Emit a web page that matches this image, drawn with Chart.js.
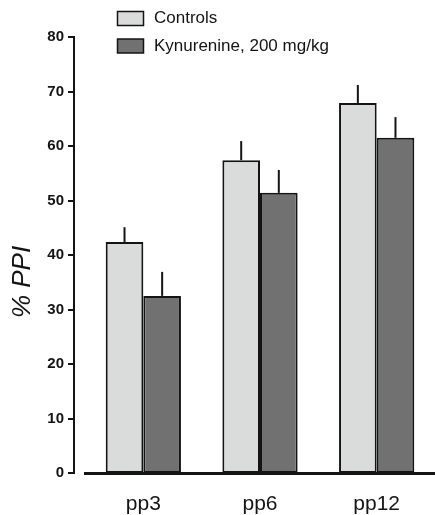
<!DOCTYPE html>
<html>
<head>
<meta charset="utf-8">
<script src="https://cdn.jsdelivr.net/npm/chart.js@4/dist/chart.umd.min.js"></script>
<style>
  html, body { margin: 0; padding: 0; background: #ffffff; }
  #wrap { position: relative; width: 435px; height: 515px; }
</style>
</head>
<body>
<div id="wrap"><canvas id="c" width="435" height="515"></canvas></div>
<script>
const categories = ['pp3', 'pp6', 'pp12'];
const seriesLabels = ['Controls', 'Kynurenine, 200 mg/kg'];
const controls = [42.4, 57.4, 67.9];
const controlsErr = [2.7, 3.5, 3.3];
const kynurenine = [32.5, 51.4, 61.5];
const kynurenineErr = [4.4, 4.2, 3.8];
const yTitle = '% PPI';
const yMin = 0, yMax = 80, yStep = 10;

const FONT = "'Liberation Sans', Arial, Helvetica, sans-serif";
const LIGHT = '#dadbdb';
const DARK = '#717171';
const INK = '#141414';

const errors = [controlsErr, kynurenineErr];

const extras = {
  id: 'extras',
  afterDatasetsDraw(chart) {
    const ctx = chart.ctx;
    const y = chart.scales.y;
    ctx.save();
    ctx.strokeStyle = INK;
    ctx.lineWidth = 2;
    chart.data.datasets.forEach((ds, di) => {
      const meta = chart.getDatasetMeta(di);
      meta.data.forEach((bar, i) => {
        const top = y.getPixelForValue(ds.data[i] + errors[di][i]);
        ctx.beginPath();
        ctx.moveTo(bar.x, bar.y);
        ctx.lineTo(bar.x, top);
        ctx.stroke();
      });
    });
    ctx.restore();
  },
  afterDraw(chart) {
    const ctx = chart.ctx;
    const y = chart.scales.y;
    const ax = 74;
    ctx.save();
    ctx.strokeStyle = INK;
    ctx.lineWidth = 2;
    ctx.beginPath();
    ctx.moveTo(ax, y.getPixelForValue(yMax) - 1);
    ctx.lineTo(ax, y.getPixelForValue(yMin) + 1);
    ctx.stroke();
    y.ticks.forEach(t => {
      const py = Math.round(y.getPixelForValue(t.value));
      ctx.beginPath();
      ctx.moveTo(ax - 6, py);
      ctx.lineTo(ax, py);
      ctx.stroke();
    });
    ctx.fillStyle = INK;
    ctx.font = 'italic 26px ' + FONT;
    ctx.textAlign = 'center';
    ctx.textBaseline = 'middle';
    ctx.translate(23, 282);
    ctx.rotate(-Math.PI / 2);
    ctx.fillText(yTitle, 0, 0);
    ctx.restore();

    ctx.save();
    const fills = [LIGHT, DARK];
    const rows = [18.5, 46];
    seriesLabels.forEach((lab, i) => {
      ctx.fillStyle = fills[i];
      ctx.strokeStyle = INK;
      ctx.lineWidth = 1.5;
      ctx.fillRect(117.5, rows[i] - 7, 26, 14);
      ctx.strokeRect(117.5, rows[i] - 7, 26, 14);
      ctx.fillStyle = INK;
      ctx.font = '17px ' + FONT;
      ctx.textAlign = 'left';
      ctx.textBaseline = 'middle';
      ctx.fillText(lab, 154, rows[i]);
    });
    ctx.restore();
  }
};

new Chart(document.getElementById('c'), {
  type: 'bar',
  data: {
    labels: categories,
    datasets: [
      { label: seriesLabels[0], data: controls, backgroundColor: LIGHT, borderColor: INK, borderWidth: 2, borderSkipped: false },
      { label: seriesLabels[1], data: kynurenine, backgroundColor: DARK, borderColor: INK, borderWidth: 2, borderSkipped: false }
    ]
  },
  options: {
    responsive: false,
    animation: false,
    devicePixelRatio: 1,
    layout: { padding: { top: 37, right: 0, bottom: 0, left: 0 } },
    datasets: { bar: { categoryPercentage: 0.645, barPercentage: 1.0 } },
    plugins: { legend: { display: false }, tooltip: { enabled: false }, title: { display: false } },
    scales: {
      x: {
        afterFit(scale) { scale.height = 42; },
        grid: { display: false, drawTicks: false },
        border: { display: true, color: INK, width: 3 },
        ticks: { color: INK, font: { family: FONT, size: 21 }, padding: 19 }
      },
      y: {
        min: yMin, max: yMax,
        afterFit(scale) { scale.width = 85; },
        grid: { display: false, drawTicks: false },
        border: { display: false },
        ticks: { stepSize: yStep, color: INK, padding: 21, font: { family: FONT, size: 15, weight: 'bold' } }
      }
    }
  },
  plugins: [extras]
});
</script>
</body>
</html>
